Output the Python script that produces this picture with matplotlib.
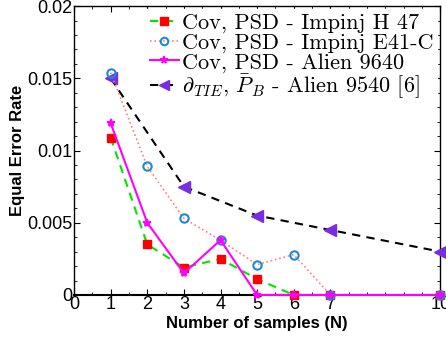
import numpy as np
import matplotlib
matplotlib.use('Agg')
import matplotlib.pyplot as plt
from matplotlib.ticker import MultipleLocator

plt.rcParams['mathtext.fontset'] = 'cm'
plt.rcParams['font.family'] = ['Liberation Sans', 'DejaVu Sans']
plt.rcParams['axes.unicode_minus'] = False

# data
x_h47 = [1, 2, 3, 4, 5, 6, 7, 10]
y_h47 = [0.0109, 0.0035, 0.0019, 0.0025, 0.0011, 0.0, 0.0, 0.0]

x_e41 = [1, 2, 3, 4, 5, 6, 7, 10]
y_e41 = [0.0154, 0.0089, 0.0053, 0.0038, 0.0021, 0.0028, 0.0, 0.0]

x_a9640 = [1, 2, 3, 4, 5, 6, 7, 10]
y_a9640 = [0.0119, 0.0050, 0.0015, 0.0038, 0.0, 0.0, 0.0, 0.0]

x_a9540 = [1, 3, 5, 7, 10]
y_a9540 = [0.0150, 0.0075, 0.0055, 0.0045, 0.0030]

labels = ['Cov, PSD - Impinj H 47',
          'Cov, PSD - Impinj E41-C',
          'Cov, PSD - Alien 9640',
          r'$\partial_{TIE}$, $\bar{P}_B$ - Alien 9540 [6]']

xticks = [0, 1, 2, 3, 4, 5, 6, 7, 10]

fig = plt.figure(figsize=(4.46, 3.41), dpi=100)
ax = fig.add_axes([0.166, 0.135, 0.821, 0.847])

ax.plot(x_h47, y_h47, color='#00e600', linestyle='--', lw=1.5, dashes=(4, 3),
        marker='s', markersize=6, markerfacecolor='red', markeredgecolor='red',
        label=labels[0], clip_on=False, zorder=3)
ax.plot(x_e41, y_e41, color='#ff7f7f', linestyle=':', lw=1.2,
        marker='o', markersize=6, markerfacecolor='none', markeredgecolor='#1c8ad8',
        markeredgewidth=1.5, label=labels[1], clip_on=False, zorder=4)
ax.plot(x_a9640, y_a9640, color='#ff00ff', linestyle='-', lw=1.5,
        marker='*', markersize=6, markeredgewidth=1.2, markeredgecolor='#ff00ff',
        label=labels[2], clip_on=False, zorder=5)
ax.plot(x_a9540, y_a9540, color='black', linestyle='--', lw=1.5, dashes=(4, 3),
        marker='<', markersize=8, markerfacecolor='#7a2ce0', markeredgecolor='#7a2ce0',
        label=labels[3], clip_on=False, zorder=3)

ax.set_xlim(0, 10)
ax.set_ylim(0, 0.02)
ax.set_xticks(xticks)
ax.set_xticklabels([str(t) for t in xticks])
ax.set_yticks([0, 0.005, 0.01, 0.015, 0.02])
ax.set_yticklabels(['0', '0.005', '0.01', '0.015', '0.02'])
ax.xaxis.set_minor_locator(MultipleLocator(0.5))
ax.yaxis.set_minor_locator(MultipleLocator(0.001))
ax.tick_params(which='both', direction='in', top=True, right=True, labelsize=13, pad=1)
ax.tick_params(which='major', length=4)
ax.tick_params(which='minor', length=2)
for s in ax.spines.values():
    s.set_linewidth(1.0)
ax.spines['bottom'].set_linewidth(1.5)

ax.set_xlabel('Number of samples (N)', fontsize=12, fontweight='bold', labelpad=2)
ax.set_ylabel('Equal Error Rate', fontsize=12, fontweight='bold', labelpad=2)

leg = ax.legend(loc='upper right', prop={'family': 'cmr10', 'size': 16},
                frameon=True, fancybox=False, edgecolor='white', framealpha=1,
                handlelength=1.3, handletextpad=0.15, labelspacing=0.0,
                borderpad=0.15, borderaxespad=0.15, markerscale=0.9)

fig.savefig('out.png', dpi=100)
